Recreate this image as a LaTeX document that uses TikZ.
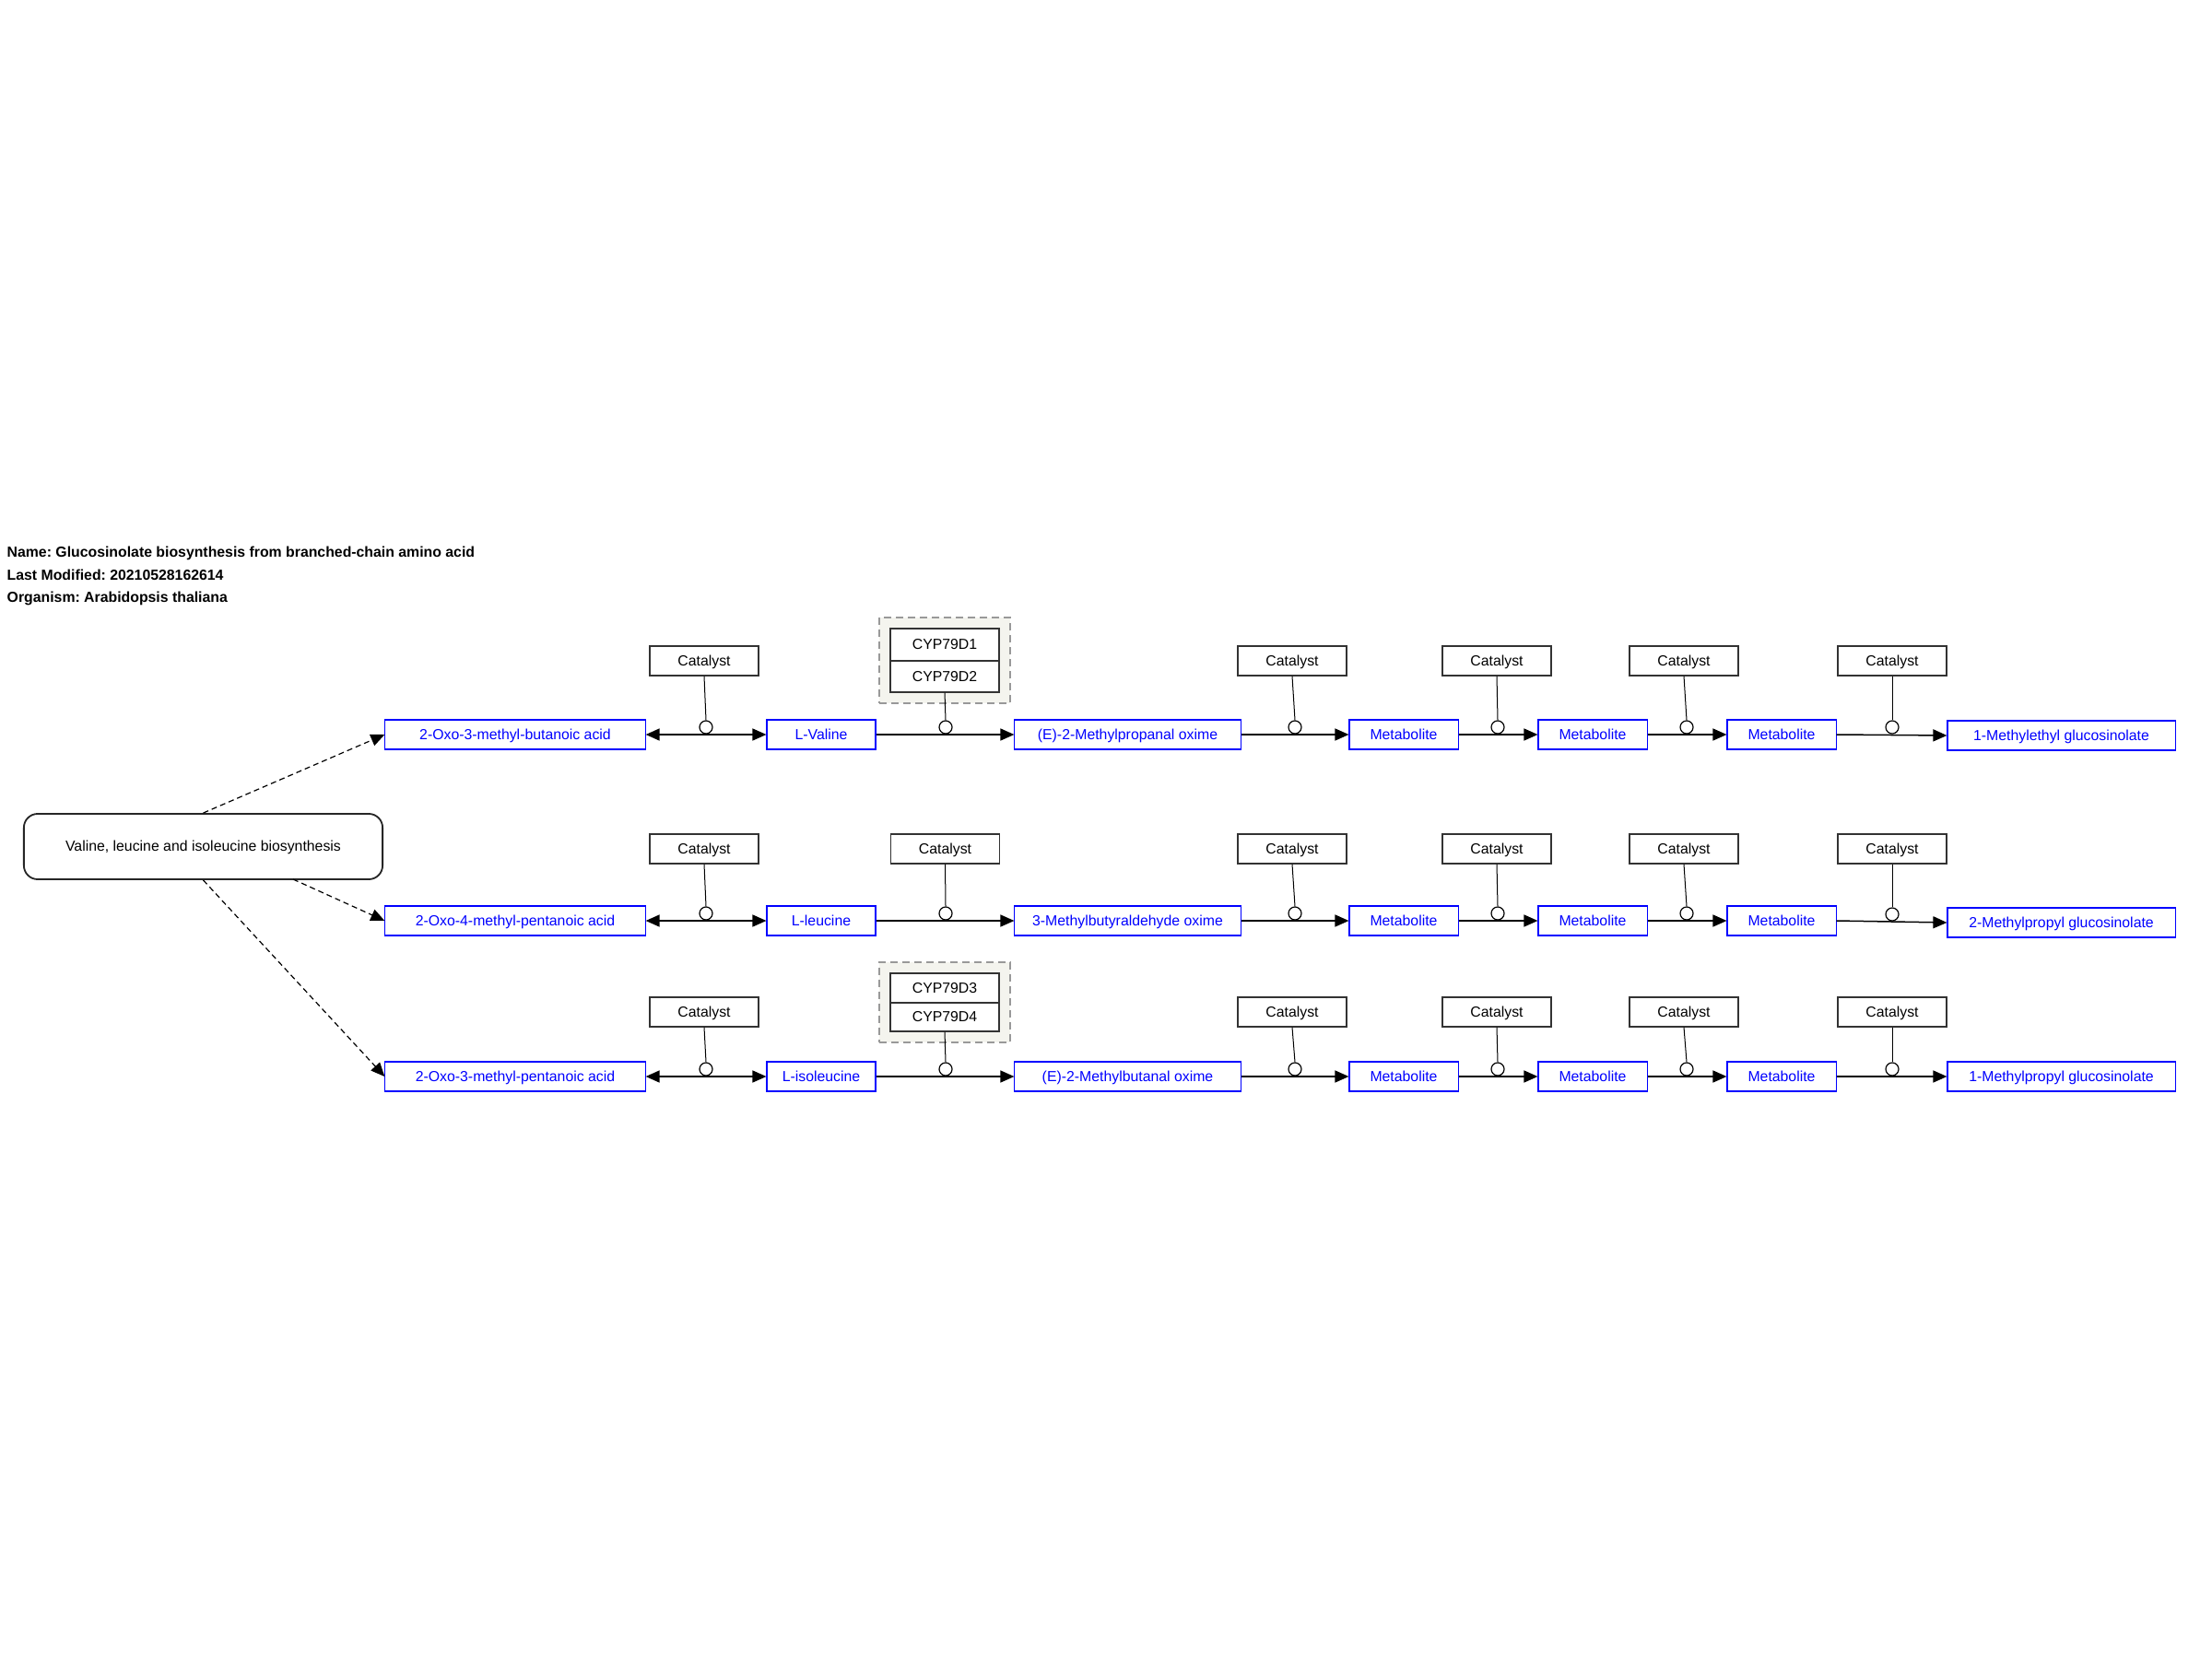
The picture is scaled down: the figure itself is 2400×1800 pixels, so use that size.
\documentclass[tikz,border=0pt]{standalone}
\usepackage{fontspec}
\setmainfont{Liberation Sans}
\usetikzlibrary{arrows.meta,calc}
\definecolor{grpfill}{HTML}{F4F4EE}
\definecolor{grpline}{HTML}{999999}
\definecolor{metblue}{HTML}{0000FF}
\frenchspacing
\tikzset{
  every node/.style={font=\fontsize{4.5pt}{5.4pt}\selectfont},
  lbl/.style={text height=3.24pt, text depth=0.27pt},
  met/.style={lbl, draw=metblue, text=metblue, line width=0.011cm, minimum height=0.32cm, inner sep=0, fill=white},
  cat/.style={lbl, draw=black!80, line width=0.013cm, minimum width=1.18cm, minimum height=0.32cm, inner sep=0, fill=white},
  grp/.style={draw=grpline, fill=grpfill, dash pattern=on 0.08cm off 0.05cm, line width=0.012cm, inner sep=0, minimum width=1.42cm},
  mim/.style={circle, draw=black, fill=white, line width=0.012cm, minimum size=0.14cm, inner sep=0},
  tip/.style={-{Triangle[length=0.15cm,width=0.13cm]}},
  rx/.style={line width=0.015cm, tip},
  rxrev/.style={line width=0.015cm, {Triangle[length=0.15cm,width=0.13cm]}-{Triangle[length=0.15cm,width=0.13cm]}},
  catlink/.style={line width=0.01cm},
  pwlink/.style={line width=0.012cm, dash pattern=on 0.06cm off 0.04cm, tip},
  pw/.style={lbl, draw=black!85, line width=0.018cm, rounded corners=0.15cm, minimum width=3.89cm, minimum height=0.71cm, inner sep=0},
  hdr/.style={anchor=base west, inner sep=0, font=\fontsize{4.5pt}{5.4pt}\selectfont\bfseries},
}
\begin{document}
\begin{tikzpicture}[x=0.01cm, y=-0.01cm]
\useasboundingbox (0,0) rectangle (2400,1800);
\fill[white] (0,0) rectangle (2400,1800);

% header
\node[hdr] (hname) at (7,604) {Name: Glucosinolate biosynthesis from branched-chain amino acid};
\node[hdr] (hmod) at (7,629) {Last Modified: 20210528162614};
\node[hdr] (horg) at (7,653) {Organism: Arabidopsis thaliana};

% pathway node
\node[pw] (P) at (220.5,918.5) {Valine, leucine and isoleucine biosynthesis};
\coordinate (p2) at (318,954);

% ---------- row 1 ----------
\node[met, minimum width=2.82cm] (A1) at (559,797) {2-Oxo-3-methyl-butanoic acid};
\node[met, minimum width=1.18cm] (B1) at (891,797) {L-Valine};
\node[met, minimum width=2.45cm] (C1) at (1223.5,797) {(E)-2-Methylpropanal oxime};
\node[met, minimum width=1.18cm] (D1) at (1523,797) {Metabolite};
\node[met, minimum width=1.18cm] (E1) at (1728,797) {Metabolite};
\node[met, minimum width=1.18cm] (F1) at (1933,797) {Metabolite};
\node[met, minimum width=2.47cm] (G1) at (2236.5,798) {1-Methylethyl glucosinolate};

\draw[rxrev] (A1.east) -- (B1.west);
\draw[rx] (B1.east) -- (C1.west);
\draw[rx] (C1.east) -- (D1.west);
\draw[rx] (D1.east) -- (E1.west);
\draw[rx] (E1.east) -- (F1.west);
\draw[rx] (F1.east) -- (G1.west);

\node[mim] (m11) at (766,789) {};
\node[mim] (m12) at (1026,789) {};
\node[mim] (m13) at (1405,789) {};
\node[mim] (m14) at (1625,789) {};
\node[mim] (m15) at (1830,789) {};
\node[mim] (m16) at (2053,789) {};

\node[cat] (k11) at (764,717) {Catalyst};
\node[grp, minimum height=0.93cm] (g1) at (1025,716.5) {};
\node[cat, minimum height=0.35cm] (cyp1) at (1025,699.5) {CYP79D1};
\node[cat, minimum height=0.34cm] (cyp2) at (1025,734) {CYP79D2};
\node[cat] (k13) at (1402,717) {Catalyst};
\node[cat] (k14) at (1624,717) {Catalyst};
\node[cat] (k15) at (1827,717) {Catalyst};
\node[cat] (k16) at (2053,717) {Catalyst};

\draw[catlink] (k11.south) -- (m11.north);
\draw[catlink] (cyp2.south) -- (m12.north);
\draw[catlink] (k13.south) -- (m13.north);
\draw[catlink] (k14.south) -- (m14.north);
\draw[catlink] (k15.south) -- (m15.north);
\draw[catlink] (k16.south) -- (m16.north);

% ---------- row 2 ----------
\node[met, minimum width=2.82cm] (A2) at (559,999) {2-Oxo-4-methyl-pentanoic acid};
\node[met, minimum width=1.18cm] (B2) at (891,999) {L-leucine};
\node[met, minimum width=2.45cm] (C2) at (1223.5,999) {3-Methylbutyraldehyde oxime};
\node[met, minimum width=1.18cm] (D2) at (1523,999) {Metabolite};
\node[met, minimum width=1.18cm] (E2) at (1728,999) {Metabolite};
\node[met, minimum width=1.18cm] (F2) at (1933,999) {Metabolite};
\node[met, minimum width=2.47cm] (G2) at (2236.5,1001) {2-Methylpropyl glucosinolate};

\draw[rxrev] (A2.east) -- (B2.west);
\draw[rx] (B2.east) -- (C2.west);
\draw[rx] (C2.east) -- (D2.west);
\draw[rx] (D2.east) -- (E2.west);
\draw[rx] (E2.east) -- (F2.west);
\draw[rx] (F2.east) -- (G2.west);

\node[mim] (m21) at (766,991) {};
\node[mim] (m22) at (1026,991) {};
\node[mim] (m23) at (1405,991) {};
\node[mim] (m24) at (1625,991) {};
\node[mim] (m25) at (1830,991) {};
\node[mim] (m26) at (2053,992) {};

\node[cat] (k21) at (764,921) {Catalyst};
\node[cat] (k22) at (1025.5,921) {Catalyst};
\node[cat] (k23) at (1402,921) {Catalyst};
\node[cat] (k24) at (1624,921) {Catalyst};
\node[cat] (k25) at (1827,921) {Catalyst};
\node[cat] (k26) at (2053,921) {Catalyst};

\draw[catlink] (k21.south) -- (m21.north);
\draw[catlink] (k22.south) -- (m22.north);
\draw[catlink] (k23.south) -- (m23.north);
\draw[catlink] (k24.south) -- (m24.north);
\draw[catlink] (k25.south) -- (m25.north);
\draw[catlink] (k26.south) -- (m26.north);

% ---------- row 3 ----------
\node[met, minimum width=2.82cm] (A3) at (559,1168) {2-Oxo-3-methyl-pentanoic acid};
\node[met, minimum width=1.18cm] (B3) at (891,1168) {L-isoleucine};
\node[met, minimum width=2.45cm] (C3) at (1223.5,1168) {(E)-2-Methylbutanal oxime};
\node[met, minimum width=1.18cm] (D3) at (1523,1168) {Metabolite};
\node[met, minimum width=1.18cm] (E3) at (1728,1168) {Metabolite};
\node[met, minimum width=1.18cm] (F3) at (1933,1168) {Metabolite};
\node[met, minimum width=2.47cm] (G3) at (2236.5,1168) {1-Methylpropyl glucosinolate};

\draw[rxrev] (A3.east) -- (B3.west);
\draw[rx] (B3.east) -- (C3.west);
\draw[rx] (C3.east) -- (D3.west);
\draw[rx] (D3.east) -- (E3.west);
\draw[rx] (E3.east) -- (F3.west);
\draw[rx] (F3.east) -- (G3.west);

\node[mim] (m31) at (766,1160) {};
\node[mim] (m32) at (1026,1160) {};
\node[mim] (m33) at (1405,1160) {};
\node[mim] (m34) at (1625,1160) {};
\node[mim] (m35) at (1830,1160) {};
\node[mim] (m36) at (2053,1160) {};

\node[cat] (k31) at (764,1098) {Catalyst};
\node[grp, minimum height=0.87cm] (g3) at (1025,1087.5) {};
\node[cat] (cyp3) at (1025,1072) {CYP79D3};
\node[cat, minimum height=0.31cm] (cyp4) at (1025,1103.5) {CYP79D4};
\node[cat] (k33) at (1402,1098) {Catalyst};
\node[cat] (k34) at (1624,1098) {Catalyst};
\node[cat] (k35) at (1827,1098) {Catalyst};
\node[cat] (k36) at (2053,1098) {Catalyst};

\draw[catlink] (k31.south) -- (m31.north);
\draw[catlink] (cyp4.south) -- (m32.north);
\draw[catlink] (k33.south) -- (m33.north);
\draw[catlink] (k34.south) -- (m34.north);
\draw[catlink] (k35.south) -- (m35.north);
\draw[catlink] (k36.south) -- (m36.north);

% links from the pathway node
\draw[pwlink] (P.north) -- (A1.west);
\draw[pwlink] (p2) -- (A2.west);
\draw[pwlink] (P.south) -- (A3.west);
\end{tikzpicture}
\end{document}
